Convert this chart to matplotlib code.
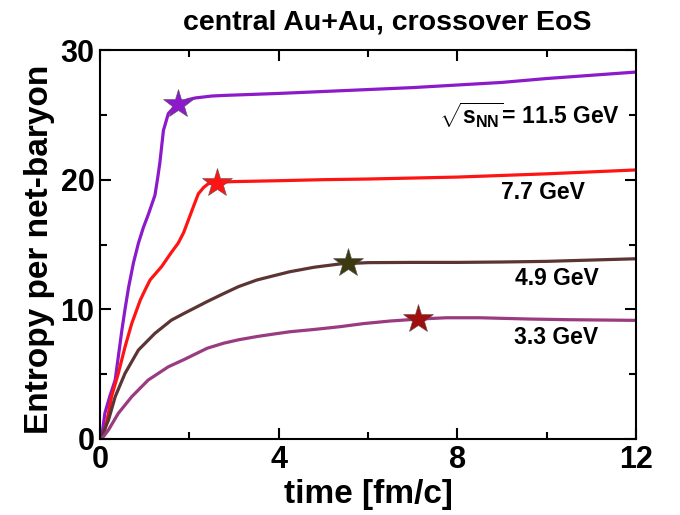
import matplotlib
matplotlib.use("Agg")
import matplotlib.pyplot as plt
from matplotlib.ticker import MultipleLocator

plt.rcParams['font.family'] = ['Liberation Sans', 'DejaVu Sans']
plt.rcParams['font.weight'] = 'bold'
plt.rcParams['mathtext.fontset'] = 'custom'
plt.rcParams['mathtext.rm'] = 'Liberation Sans:bold'
plt.rcParams['mathtext.bf'] = 'Liberation Sans:bold'
plt.rcParams['mathtext.it'] = 'Liberation Sans:bold'

# Entropy per net-baryon vs time for four collision energies
t_115 = [0, 0.04, 0.11, 0.22, 0.34, 0.41, 0.49, 0.56, 0.64, 0.75, 0.86, 0.97,
         1.08, 1.16, 1.23, 1.29, 1.34, 1.42, 1.53, 1.65, 1.75, 1.95, 2.13, 2.5,
         2.8, 4, 5, 6, 7, 8, 9, 10, 11, 12]
s_115 = [0, 0.2, 2.0, 3.3, 4.55, 6.35, 8.4, 10.0, 11.7, 13.6, 15.1, 16.3,
         17.3, 18.1, 18.8, 20.1, 21.3, 23.8, 25.1, 25.55, 25.8, 26.15, 26.3, 26.45,
         26.5, 26.65, 26.8, 26.95, 27.1, 27.3, 27.5, 27.8, 28.05, 28.3]

t_77 = [0, 0.05, 0.11, 0.19, 0.26, 0.41, 0.56, 0.71, 0.9, 1.01, 1.12, 1.38,
        1.6, 1.75, 1.87, 1.98, 2.1, 2.2, 2.32, 2.43, 2.63, 3, 4, 5, 6, 8, 10, 12]
s_77 = [0, 0.2, 0.7, 2.0, 3.3, 5.06, 7.1, 8.9, 10.7, 11.5, 12.26, 13.3,
        14.4, 15.1, 15.9, 16.9, 18.0, 18.9, 19.4, 19.7, 19.8, 19.85, 19.92, 20.0,
        20.05, 20.2, 20.45, 20.75]

t_49 = [0, 0.05, 0.19, 0.34, 0.56, 0.86, 1.23, 1.6, 1.89, 2.4, 2.76, 3.1,
        3.51, 3.9, 4.25, 4.8, 5.37, 6, 7, 8, 9, 10, 11, 12]
s_49 = [0, 0.3, 1.46, 3.26, 5.06, 6.86, 8.15, 9.17, 9.7, 10.6, 11.2, 11.75,
        12.26, 12.6, 12.9, 13.25, 13.5, 13.6, 13.62, 13.62, 13.65, 13.7, 13.8, 13.9]

t_33 = [0, 0.08, 0.19, 0.41, 0.71, 1.08, 1.53, 1.89, 2.4, 2.76, 3.1, 3.51,
        3.9, 4.25, 4.8, 5.37, 5.9, 6.5, 7.13, 7.76, 8.5, 9.63, 10.5, 12]
s_33 = [0, 0.2, 0.7, 1.98, 3.26, 4.55, 5.57, 6.14, 7.0, 7.38, 7.65, 7.9,
        8.1, 8.27, 8.45, 8.66, 8.9, 9.1, 9.25, 9.35, 9.35, 9.25, 9.2, 9.15]

# star markers on each curve
star_t = [1.75, 2.62, 5.55, 7.13]
star_s = [25.8, 19.75, 13.55, 9.25]

energy_labels = [r'$\sqrt{\mathbf{s}_{\mathrm{NN}}}$= 11.5 GeV', '7.7 GeV', '4.9 GeV', '3.3 GeV']
label_t = [11.64, 10.86, 11.16, 11.16]
label_s = [25.0, 19.0, 12.4, 7.8]

line_colors = ['#8C1ACB', '#FF1414', '#5C3434', '#9A3A80']
star_colors = ['#8C1ACB', '#FF1414', '#3D3A12', '#A00E0E']

fig = plt.figure(figsize=(6.8, 5.15), dpi=100)
ax = fig.add_axes([100/680, 76/515, 536/680, 389/515])

series = [(t_115, s_115), (t_77, s_77), (t_49, s_49), (t_33, s_33)]
for (tt, ss), c in zip(series, line_colors):
    ax.plot(tt, ss, color=c, lw=2.3, solid_capstyle='round', solid_joinstyle='round')

for x, y, c in zip(star_t, star_s, star_colors):
    ax.plot([x], [y], marker='*', ms=22, color=c, mec='#555555', mew=0.4, zorder=5)

for txt, x, y in zip(energy_labels, label_t, label_s):
    ax.text(x, y, txt, ha='right', va='center', fontsize=16.5, fontweight='bold')

ax.set_xlim(0, 12)
ax.set_ylim(0, 30)
ax.xaxis.set_major_locator(MultipleLocator(4))
ax.xaxis.set_minor_locator(MultipleLocator(2))
ax.yaxis.set_major_locator(MultipleLocator(10))
ax.yaxis.set_minor_locator(MultipleLocator(5))
ax.tick_params(which='both', direction='in', top=True, right=True, width=1.5)
ax.tick_params(which='major', length=8, labelsize=22, pad=4)
ax.tick_params(which='minor', length=5)
for lbl in ax.get_xticklabels() + ax.get_yticklabels():
    lbl.set_fontweight('bold')
for sp in ax.spines.values():
    sp.set_linewidth(1.5)

fig.text(387/680, 1 - 22/515, 'central Au+Au, crossover EoS', ha='center', va='center',
         fontsize=20.5, fontweight='bold')
fig.text(368/680, 1 - 494/515, 'time [fm/c]', ha='center', va='center',
         fontsize=24, fontweight='bold')
fig.text(40/680, 1 - 249/515, 'Entropy per net-baryon', ha='center', va='center',
         rotation=90, fontsize=24, fontweight='bold')

fig.savefig('out.png', dpi=100)
